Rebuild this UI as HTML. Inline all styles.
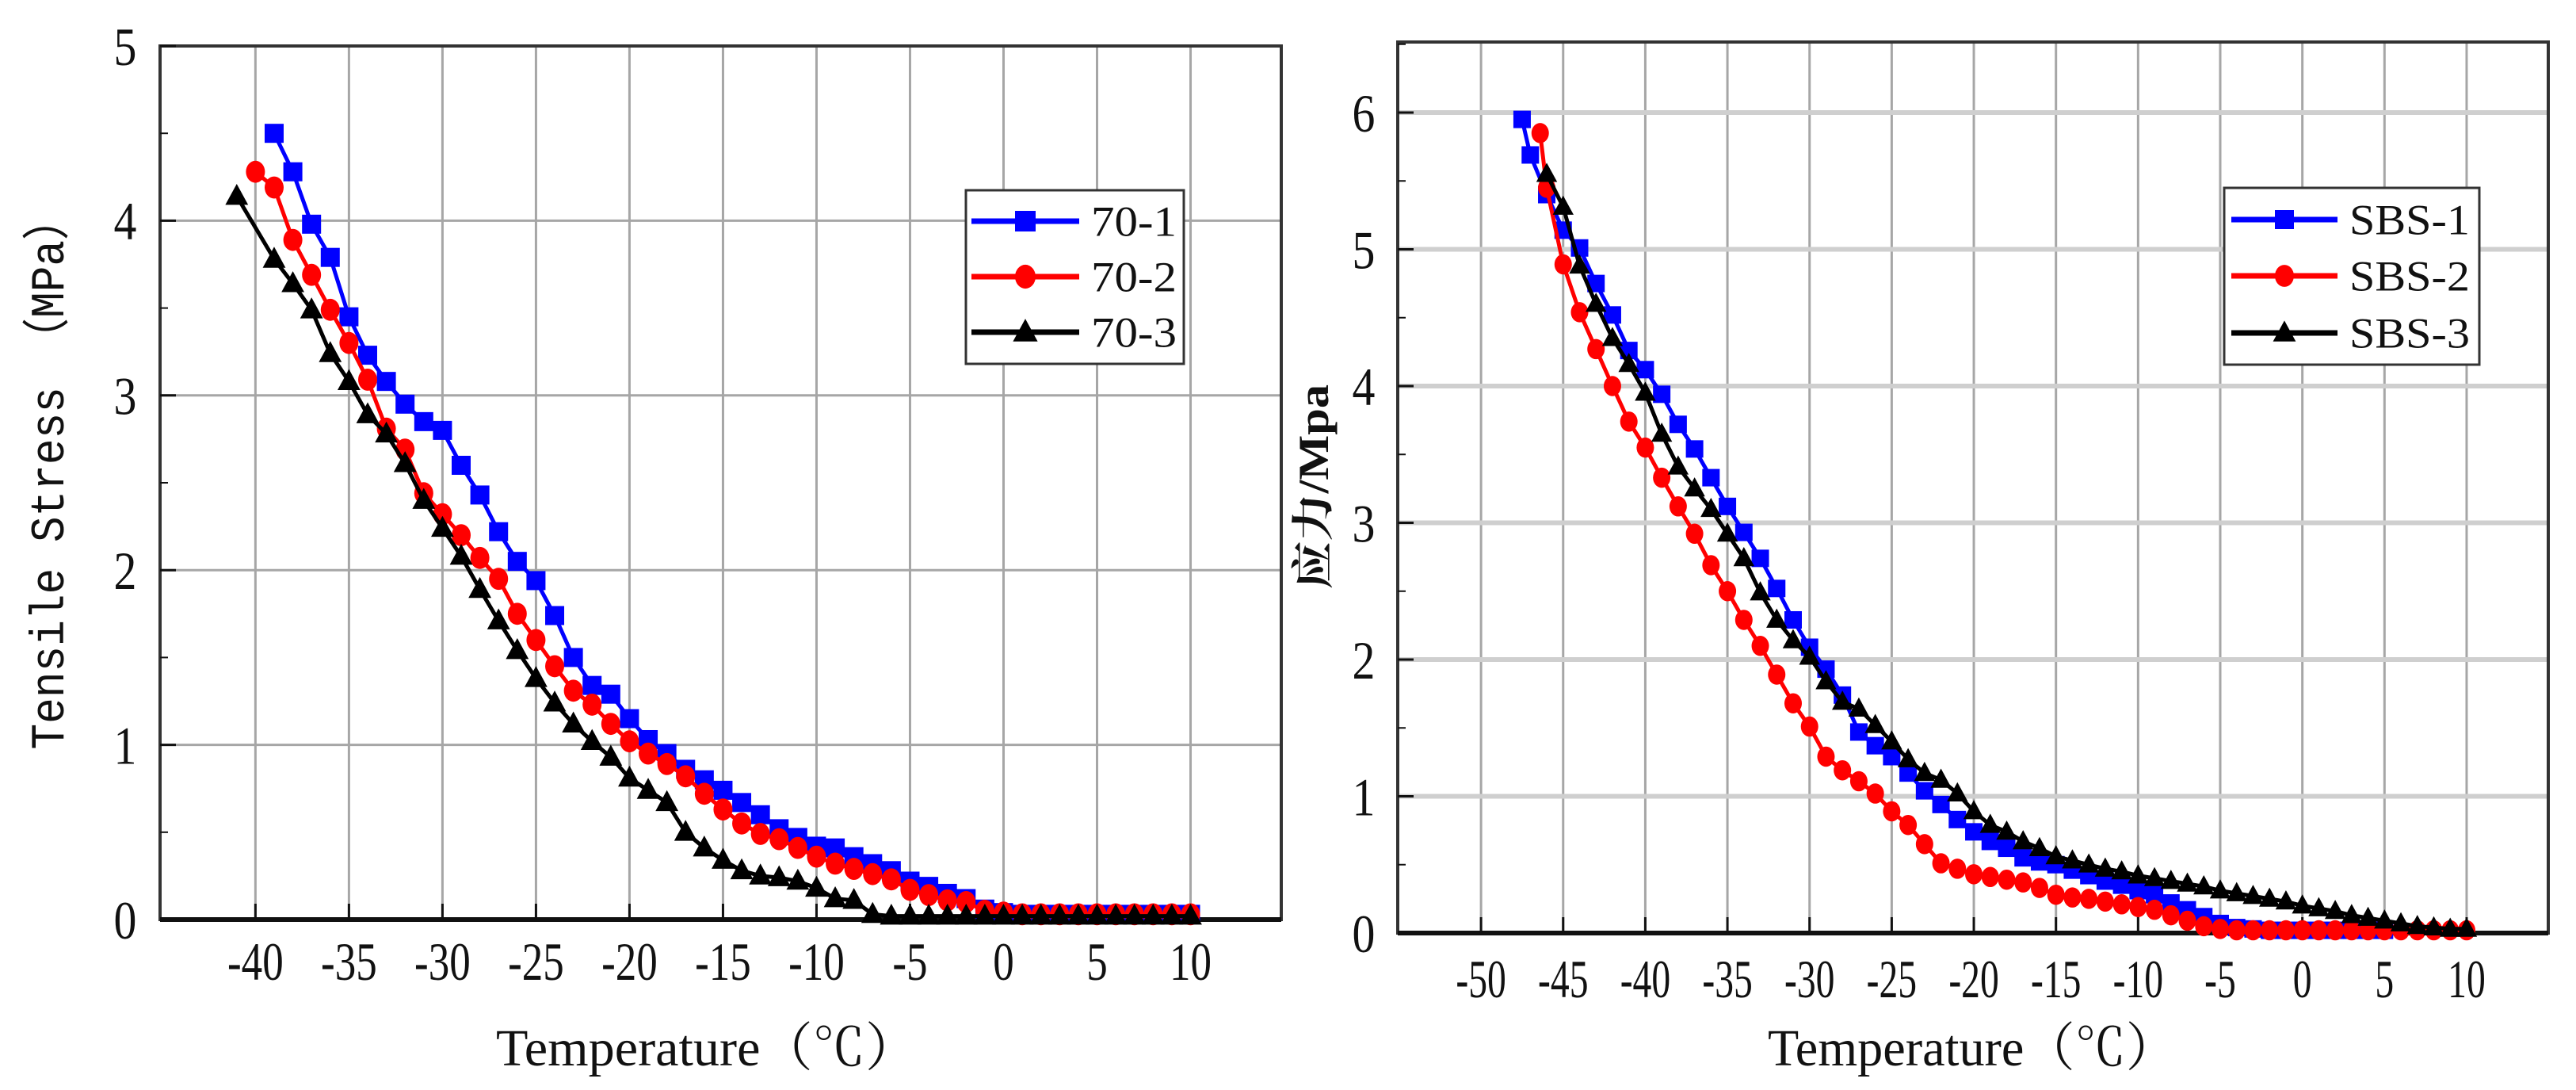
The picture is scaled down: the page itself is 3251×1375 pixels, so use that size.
<!DOCTYPE html>
<html><head><meta charset="utf-8"><style>
html,body{margin:0;padding:0;background:#fff;}
svg{display:block;}
text{font-family:"Liberation Serif","Noto Serif CJK SC",serif;fill:#111;}
</style></head>
<body>
<svg id="fig" width="3251" height="1375" viewBox="0 0 3251 1375" xmlns="http://www.w3.org/2000/svg">
<g id="left"></g>
<g id="right"></g>
</svg>
<script>
// ---------- Left chart data ----------
const leftXTicks = [-40,-35,-30,-25,-20,-15,-10,-5,0,5,10];
const leftYTicks = [0,1,2,3,4,5];
const l1T = [-39,-38,-37,-36,-35,-34,-33,-32,-31,-30,-29,-28,-27,-26,-25,-24,-23,-22,-21,-20,-19,-18,-17,-16,-15,-14,-13,-12,-11,-10,-9,-8,-7,-6,-5,-4,-3,-2,-1,0,1,2,3,4,5,6,7,8,9,10];
const l1V = [4.5,4.28,3.98,3.79,3.45,3.23,3.08,2.95,2.85,2.8,2.6,2.43,2.22,2.05,1.94,1.74,1.5,1.34,1.29,1.15,1.03,0.95,0.86,0.8,0.74,0.67,0.6,0.52,0.47,0.42,0.41,0.36,0.32,0.28,0.22,0.19,0.15,0.12,0.06,0.04,0.03,0.03,0.03,0.03,0.03,0.03,0.03,0.03,0.03,0.03];
const l2T = [-40,-39,-38,-37,-36,-35,-34,-33,-32,-31,-30,-29,-28,-27,-26,-25,-24,-23,-22,-21,-20,-19,-18,-17,-16,-15,-14,-13,-12,-11,-10,-9,-8,-7,-6,-5,-4,-3,-2,-1,0,1,2,3,4,5,6,7,8,9,10];
const l2V = [4.28,4.19,3.89,3.69,3.49,3.3,3.09,2.81,2.69,2.44,2.32,2.2,2.07,1.95,1.75,1.6,1.45,1.31,1.23,1.12,1.02,0.95,0.89,0.82,0.72,0.63,0.55,0.49,0.46,0.41,0.36,0.32,0.29,0.26,0.23,0.17,0.14,0.11,0.1,0.05,0.04,0.03,0.03,0.03,0.03,0.03,0.03,0.03,0.03,0.03,0.03];
const l3T = [-41,-39,-38,-37,-36,-35,-34,-33,-32,-31,-30,-29,-28,-27,-26,-25,-24,-23,-22,-21,-20,-19,-18,-17,-16,-15,-14,-13,-12,-11,-10,-9,-8,-7,-6,-5,-4,-3,-2,-1,0,1,2,3,4,5,6,7,8,9,10];
const l3V = [4.14,3.78,3.64,3.49,3.24,3.08,2.89,2.78,2.61,2.4,2.24,2.08,1.89,1.71,1.54,1.38,1.24,1.12,1.02,0.93,0.81,0.74,0.67,0.5,0.41,0.34,0.28,0.25,0.24,0.22,0.18,0.12,0.11,0.03,0.02,0.02,0.02,0.02,0.02,0.02,0.02,0.02,0.02,0.02,0.02,0.02,0.02,0.02,0.02,0.02,0.02];
const leftNames = ["70-1","70-2","70-3"];

// ---------- Right chart data ----------
const rightXTicks = [-50,-45,-40,-35,-30,-25,-20,-15,-10,-5,0,5,10];
const rightYTicks = [0,1,2,3,4,5,6];
const r1T = [-47.5,-47,-46,-45,-44,-43,-42,-41,-40,-39,-38,-37,-36,-35,-34,-33,-32,-31,-30,-29,-28,-27,-26,-25,-24,-23,-22,-21,-20,-19,-18,-17,-16,-15,-14,-13,-12,-11,-10,-9,-8,-7,-6,-5,-4,-3,-2,-1,0,1,2,3,4,5];
const r1V = [5.95,5.69,5.4,5.14,5.01,4.75,4.52,4.26,4.12,3.94,3.72,3.54,3.33,3.12,2.93,2.74,2.52,2.29,2.09,1.93,1.74,1.47,1.37,1.29,1.17,1.04,0.94,0.83,0.74,0.67,0.62,0.55,0.52,0.5,0.46,0.42,0.38,0.35,0.31,0.28,0.22,0.17,0.12,0.07,0.04,0.03,0.02,0.02,0.02,0.02,0.02,0.02,0.02,0.02];
const r2T = [-46.4,-46,-45,-44,-43,-42,-41,-40,-39,-38,-37,-36,-35,-34,-33,-32,-31,-30,-29,-28,-27,-26,-25,-24,-23,-22,-21,-20,-19,-18,-17,-16,-15,-14,-13,-12,-11,-10,-9,-8,-7,-6,-5,-4,-3,-2,-1,0,1,2,3,4,5,6,7,8,9,10];
const r2V = [5.85,5.45,4.89,4.54,4.27,4.0,3.74,3.55,3.33,3.12,2.92,2.69,2.5,2.29,2.1,1.89,1.68,1.51,1.29,1.19,1.11,1.02,0.89,0.79,0.65,0.51,0.47,0.43,0.41,0.39,0.37,0.33,0.28,0.26,0.25,0.23,0.21,0.19,0.17,0.13,0.09,0.05,0.03,0.02,0.02,0.02,0.02,0.02,0.02,0.02,0.02,0.02,0.02,0.02,0.02,0.02,0.02,0.02];
const r3T = [-46,-45,-44,-43,-42,-41,-40,-39,-38,-37,-36,-35,-34,-33,-32,-31,-30,-29,-28,-27,-26,-25,-24,-23,-22,-21,-20,-19,-18,-17,-16,-15,-14,-13,-12,-11,-10,-9,-8,-7,-6,-5,-4,-3,-2,-1,0,1,2,3,4,5,6,7,8,9,10];
const r3V = [5.55,5.31,4.88,4.6,4.35,4.16,3.95,3.65,3.41,3.25,3.1,2.92,2.74,2.49,2.29,2.14,2.02,1.84,1.69,1.64,1.52,1.4,1.27,1.17,1.12,1.02,0.89,0.79,0.74,0.67,0.62,0.56,0.53,0.5,0.47,0.45,0.42,0.4,0.38,0.36,0.34,0.31,0.29,0.27,0.25,0.23,0.2,0.18,0.16,0.13,0.11,0.09,0.07,0.05,0.04,0.03,0.03];
const rightNames = ["SBS-1","SBS-2","SBS-3"];

const NS = "http://www.w3.org/2000/svg";
function el(parent, tag, attrs, txt){
  const e = document.createElementNS(NS, tag);
  for (const k in attrs) e.setAttribute(k, attrs[k]);
  if (txt !== undefined) e.textContent = txt;
  parent.appendChild(e);
  return e;
}
function marker(g, shape, cx, cy, s, color){
  let m;
  if (shape === "square") m = el(g, "rect", {x:cx-s/2, y:cy-s/2, width:s, height:s, fill:color});
  else if (shape === "circle") m = el(g, "ellipse", {cx:cx, cy:cy, rx:s/2, ry:s*0.58, fill:color});
  else m = el(g, "polygon", {points:`${cx},${cy-s*0.65} ${cx-s*0.6},${cy+s*0.45} ${cx+s*0.6},${cy+s*0.45}`, fill:color});
  return m;
}

function drawChart(cfg){
  const g = document.getElementById(cfg.id);
  const sx = v => cfg.x0 + (v - cfg.xmin) / (cfg.xmax - cfg.xmin) * (cfg.x1 - cfg.x0);
  const sy = v => cfg.yb - v * cfg.yunit;
  const grid = el(g, "g", {});
  
  
  cfg.xticks.forEach(t => {
    const l = el(grid, "line", {x1:sx(t), x2:sx(t), y1:cfg.yt, y2:cfg.yb, stroke:"#a6a6a6", "stroke-width":3});
    
    
  });
  cfg.yticks.forEach(t => {
    if (t === 0) return;
    const l = el(grid, "line", {x1:cfg.x0, x2:cfg.x1, y1:sy(t), y2:sy(t), stroke:cfg.hgrid, "stroke-width":cfg.hgridW});
    
    
  });
  const fr = el(g, "rect", {x:cfg.x0, y:cfg.yt, width:cfg.x1-cfg.x0, height:cfg.yb-cfg.yt, fill:"none", stroke:"#333", "stroke-width":4});
  
  
  el(g, "line", {x1:cfg.x0, x2:cfg.x1, y1:cfg.yb, y2:cfg.yb, stroke:"#111", "stroke-width":6});
  cfg.xticks.forEach(t => {
    el(g, "line", {x1:sx(t), x2:sx(t), y1:cfg.yb, y2:cfg.yb-20, stroke:"#111", "stroke-width":3});
    const lb = el(g, "text", {x:0, y:0, "text-anchor":"middle", "font-size":cfg.tickFont, transform:`translate(${sx(t)},${cfg.xlabY}) scale(${cfg.xsq},1)`}, String(t));
    
    
  });
  cfg.yticks.forEach(t => {
    el(g, "line", {x1:cfg.x0, x2:cfg.x0+20, y1:sy(t), y2:sy(t), stroke:"#111", "stroke-width":3});
    if (t < cfg.yticks[cfg.yticks.length-1] || cfg.minorTop) el(g, "line", {x1:cfg.x0, x2:cfg.x0+10, y1:sy(t+0.5), y2:sy(t+0.5), stroke:"#111", "stroke-width":2});
    const lb = el(g, "text", {x:0, y:0, "text-anchor":"middle", "font-size":cfg.tickFont, transform:`translate(${cfg.ylabX},${sy(t)+cfg.tickFont*0.35}) scale(0.85,1)`}, String(t));
    
    
  });
  cfg.series.forEach((s, i) => {
    const sg = el(g, "g", {});
    
    
    const pts = s.T.map((t, k) => `${sx(t).toFixed(1)},${sy(s.V[k]).toFixed(1)}`).join(" ");
    el(sg, "polyline", {points:pts, fill:"none", stroke:s.color, "stroke-width":5});
    s.T.forEach((t, k) => {
      const m = marker(sg, s.shape, sx(t), sy(s.V[k]), cfg.msize, s.color);
      
      
    });
  });
  const lg = el(g, "g", {});
  
  
  const L = cfg.legend;
  el(lg, "rect", {x:L.x, y:L.y, width:L.w, height:L.h, fill:"#fff", stroke:"#333", "stroke-width":3});
  cfg.series.forEach((s, i) => {
    const cy = L.rows[i];
    const eg = el(lg, "g", {});
    
    
    el(eg, "line", {x1:L.lx1, x2:L.lx2, y1:cy, y2:cy, stroke:s.color, "stroke-width":7});
    marker(eg, s.shape, (L.lx1+L.lx2)/2, cy, cfg.msize+2, s.color);
    el(eg, "text", {x:L.tx, y:cy+L.font*0.34, "font-size":L.font, textLength:L.tw, lengthAdjust:"spacingAndGlyphs"}, cfg.names[i]);
  });
  const xt = el(g, "text", {x:cfg.xtitle.x, y:cfg.xtitle.y, "text-anchor":"middle", "font-size":66, textLength:cfg.xtitle.len, lengthAdjust:"spacingAndGlyphs"}, "Temperature（℃）");
  
  
  const yt = el(g, "text", {x:0, y:0, "text-anchor":"middle", "font-size":cfg.ytitle.font, "font-weight":cfg.ytitle.weight, textLength:cfg.ytitle.len, lengthAdjust:"spacingAndGlyphs", transform:`translate(${cfg.ytitle.x},${cfg.ytitle.y}) rotate(-90)`, style:"font-family:"+cfg.ytitle.family}, cfg.ytitle.text);
  
  
}

drawChart({
  id:"left", x0:202, x1:1617, yt:58, yb:1160, yunit:220.4,
  xmin:-45.1, xmax:14.85, xticks:leftXTicks, yticks:leftYTicks,
  hgrid:"#a6a6a6", hgridW:3, minorTop:false,
  xlabY:1236, ylabX:158, tickFont:68, xsq:0.78, msize:24,
  series:[{T:l1T,V:l1V,color:"#0000ff",shape:"square"},{T:l2T,V:l2V,color:"#ff0000",shape:"circle"},{T:l3T,V:l3V,color:"#000",shape:"triangle"}],
  names:leftNames,
  legend:{x:1219,y:240,w:275,h:219,rows:[279,349,419],lx1:1226,lx2:1362,tx:1377,font:54,tw:108},
  xtitle:{x:892,y:1344,len:532},
  ytitle:{x:80,y:597,len:697,font:60,weight:"normal",family:"'Liberation Mono','Noto Sans CJK SC',monospace",text:"Tensile Stress （MPa）"}
});
drawChart({
  id:"right", x0:1764, x1:3216, yt:53, yb:1177, yunit:172.5,
  xmin:-55.07, xmax:14.97, xticks:rightXTicks, yticks:rightYTicks,
  hgrid:"#cfcfcf", hgridW:6, minorTop:true,
  xlabY:1258, ylabX:1721, tickFont:68, xsq:0.7, msize:22,
  series:[{T:r1T,V:r1V,color:"#0000ff",shape:"square"},{T:r2T,V:r2V,color:"#ff0000",shape:"circle"},{T:r3T,V:r3V,color:"#000",shape:"triangle"}],
  names:rightNames,
  legend:{x:2807,y:237,w:322,h:223,rows:[277,348,420],lx1:2816,lx2:2950,tx:2965,font:54,tw:152},
  xtitle:{x:2489,y:1344,len:516},
  ytitle:{x:1676,y:614,len:258,font:54,weight:"bold",family:"'Liberation Serif','Noto Serif CJK SC',serif",text:"应力/Mpa"}
});
</script>
</body></html>
